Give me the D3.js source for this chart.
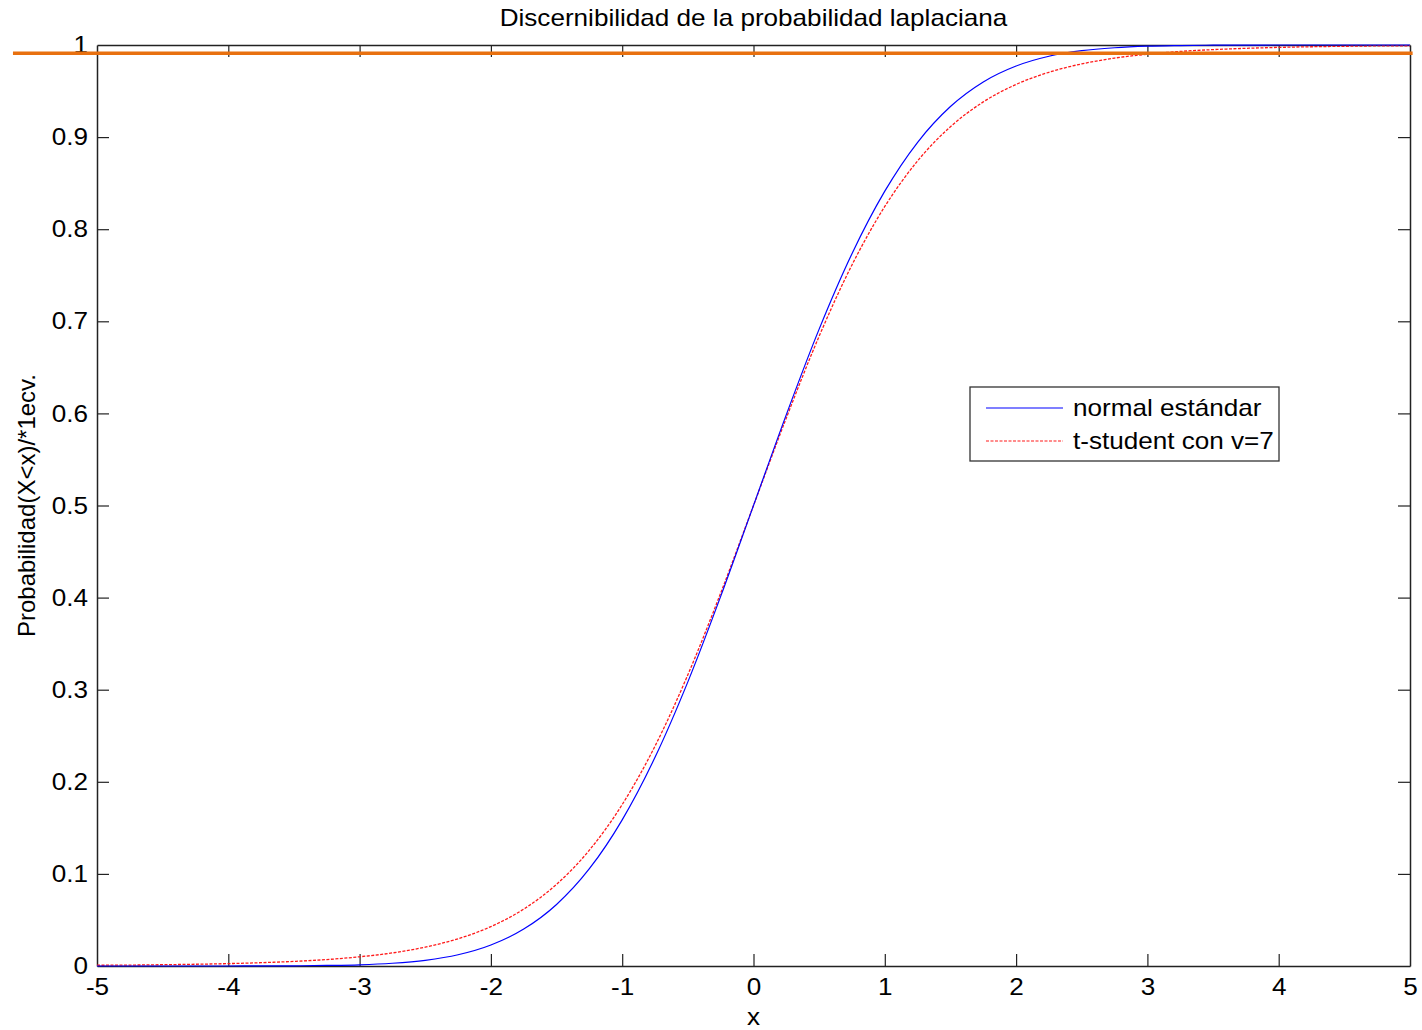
<!DOCTYPE html>
<html lang="es">
<head>
    <meta charset="UTF-8">
    <title>Discernibilidad de la probabilidad laplaciana</title>
    <script src="https://d3js.org/d3.v7.min.js"></script>
    <style>
        body {
            margin: 0;
            background: #fff;
            font-family: "Liberation Sans", Arial, sans-serif;
        }
        .tick-label {
            font-size: 24px;
            fill: #000;
        }
    </style>
</head>
<body>
    <div id="chart"></div>

    <script>
        // valores
        const xValues = [-5, -4.75, -4.5, -4.25, -4, -3.75, -3.5, -3.25, -3, -2.75, -2.5, -2.25, -2,
            -1.75, -1.5, -1.25, -1, -0.75, -0.5, -0.25, 0, 0.25, 0.5, 0.75, 1, 1.25, 1.5, 1.75,
            2, 2.25, 2.5, 2.75, 3, 3.25, 3.5, 3.75, 4, 4.25, 4.5, 4.75, 5];
        const normalValues = [0, 0, 0, 0, 0, 0.0001, 0.0002, 0.0006, 0.0013, 0.003, 0.0062, 0.0122, 0.0228,
            0.0401, 0.0668, 0.1056, 0.1587, 0.2266, 0.3085, 0.4013, 0.5, 0.5987, 0.6915, 0.7734, 0.8413,
            0.8944, 0.9332, 0.9599, 0.9772, 0.9878, 0.9938, 0.997, 0.9987, 0.9994, 0.9998, 0.9999, 1,
            1, 1, 1, 1];
        const studentValues = [0.0008, 0.001, 0.0014, 0.0019, 0.0026, 0.0036, 0.005, 0.007, 0.01, 0.0142,
            0.0205, 0.0296, 0.0428, 0.0618, 0.0887, 0.1258, 0.1753, 0.2388, 0.3162, 0.4049, 0.5,
            0.5951, 0.6838, 0.7612, 0.8247, 0.8742, 0.9113, 0.9382, 0.9572, 0.9704, 0.9795, 0.9858,
            0.99, 0.993, 0.995, 0.9964, 0.9974, 0.9981, 0.9986, 0.999, 0.9992];
        const xTicks = [-5, -4, -3, -2, -1, 0, 1, 2, 3, 4, 5];
        const yTicks = [0, 0.1, 0.2, 0.3, 0.4, 0.5, 0.6, 0.7, 0.8, 0.9, 1];
        const legendLabels = ["normal estándar", "t-student con v=7"];
        const refLine = { y: 0.991, x0: -5.64, x1: 5.02 };

        const width = 1422, height = 1030;
        const margin = { top: 45, right: 12, bottom: 64, left: 97 };
        const stretch = 1.087; // el texto de la figura esta algo ensanchado

        const svg = d3.select("#chart").append("svg")
            .attr("width", width)
            .attr("height", height);

        const x = d3.scaleLinear().domain([-5, 5]).range([margin.left, width - margin.right]);
        const y = d3.scaleLinear().domain([0, 1]).range([height - margin.bottom, margin.top]);
        const fmt = d => String(d);

        // ejes con marcas hacia dentro
        svg.append("g")
            .attr("transform", `translate(0,${y(0)})`)
            .call(d3.axisBottom(x).tickValues(xTicks).tickSizeInner(-12).tickSizeOuter(0).tickPadding(12).tickFormat(fmt))
            .call(g => g.selectAll("text").attr("class", "tick-label wide"));
        svg.append("g")
            .attr("transform", `translate(0,${y(1)})`)
            .call(d3.axisTop(x).tickValues(xTicks).tickSizeInner(-12).tickSizeOuter(0).tickFormat(""));
        svg.append("g")
            .attr("transform", `translate(${x(-5)},0)`)
            .call(d3.axisLeft(y).tickValues(yTicks).tickSizeInner(-12).tickSizeOuter(0).tickPadding(9).tickFormat(fmt))
            .call(g => g.selectAll("text").attr("class", "tick-label wide"));
        svg.append("g")
            .attr("transform", `translate(${x(5)},0)`)
            .call(d3.axisRight(y).tickValues(yTicks).tickSizeInner(-12).tickSizeOuter(0).tickFormat(""));

        svg.selectAll(".domain").attr("stroke", "#222").attr("stroke-width", 1.5);
        svg.selectAll(".tick line").attr("stroke", "#222").attr("stroke-width", 1.2);
        svg.selectAll(".tick:first-of-type line, .tick:last-of-type line").attr("display", "none");

        const line = d3.line()
            .x((d, i) => x(xValues[i]))
            .y(d => y(d))
            .curve(d3.curveMonotoneX);

        svg.append("path")
            .datum(studentValues)
            .attr("fill", "none")
            .attr("stroke", "#ff1a1a")
            .attr("stroke-width", 1.3)
            .attr("stroke-dasharray", "3,1.5")
            .attr("d", line);

        svg.append("path")
            .datum(normalValues)
            .attr("fill", "none")
            .attr("stroke", "#0000ff")
            .attr("stroke-width", 1.2)
            .attr("d", line);

        // linea de referencia naranja
        svg.append("line")
            .attr("x1", x(refLine.x0))
            .attr("x2", x(refLine.x1))
            .attr("y1", y(refLine.y))
            .attr("y2", y(refLine.y))
            .attr("stroke", "#e8700f")
            .attr("stroke-width", 3.5);

        // titulo y etiquetas
        svg.append("text")
            .attr("class", "wide")
            .attr("x", (x(-5) + x(5)) / 2)
            .attr("y", 26)
            .attr("text-anchor", "middle")
            .attr("font-size", "24px")
            .text("Discernibilidad de la probabilidad laplaciana");

        svg.append("text")
            .attr("class", "wide")
            .attr("x", x(0))
            .attr("y", 1025)
            .attr("text-anchor", "middle")
            .attr("font-size", "24px")
            .text("x");

        svg.append("text")
            .attr("transform", `translate(35,${(y(0) + y(1)) / 2}) rotate(-90)`)
            .attr("text-anchor", "middle")
            .attr("font-size", "24px")
            .text("Probabilidad(X<x)/*1ecv.");

        // leyenda
        const legend = svg.append("g").attr("transform", "translate(970,387)");
        legend.append("rect")
            .attr("width", 309)
            .attr("height", 74)
            .attr("fill", "#fff")
            .attr("stroke", "#333")
            .attr("stroke-width", 1.3);

        const items = legend.selectAll("g.item")
            .data(legendLabels)
            .enter().append("g")
            .attr("class", "item")
            .attr("transform", (d, i) => `translate(0,${21 + i * 33})`);

        items.append("line")
            .attr("x1", 16).attr("x2", 93)
            .attr("stroke", (d, i) => i === 0 ? "#0000ff" : "#ff1a1a")
            .attr("stroke-width", 1.2)
            .attr("stroke-dasharray", (d, i) => i === 0 ? null : "3,1.5");

        items.append("text")
            .attr("class", "wide")
            .attr("x", 103)
            .attr("dy", "0.35em")
            .attr("font-size", "24px")
            .text(d => d);

        // ensanchar el texto horizontal como en la figura
        svg.selectAll("text.wide").each(function () {
            const w = this.getComputedTextLength();
            d3.select(this)
                .attr("textLength", w * stretch)
                .attr("lengthAdjust", "spacingAndGlyphs");
        });
    </script>
</body>
</html>
